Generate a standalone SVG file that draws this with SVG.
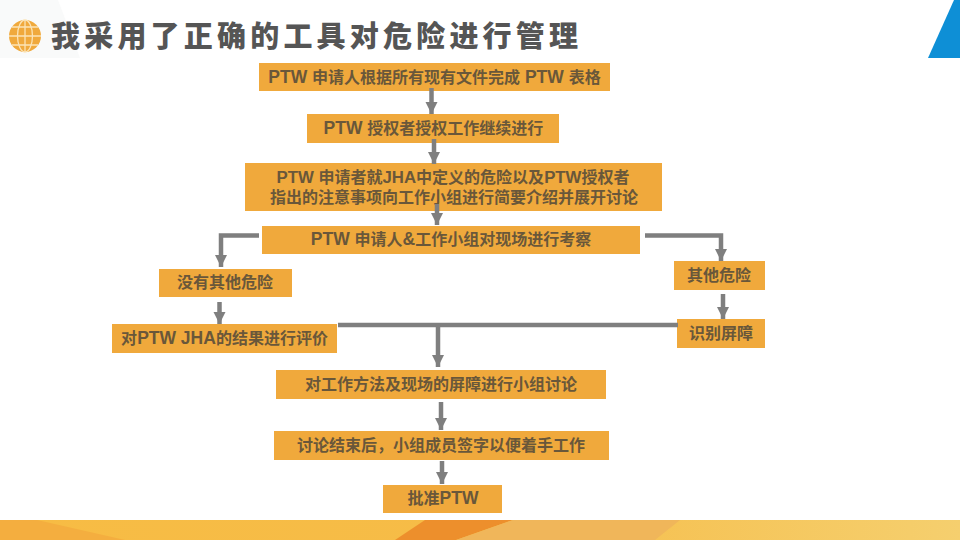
<svg xmlns="http://www.w3.org/2000/svg" width="960" height="540" viewBox="0 0 960 540">
<style>
.b{fill:#f0a93c}
.t{font-family:"Liberation Sans","Noto Sans CJK SC",sans-serif;font-weight:700;font-size:16px;fill:#69573a;text-anchor:middle}
.l{font-size:17.500px}
.m{font-size:16.800px}
.c{fill:none;stroke:#7f7f7f;stroke-width:4.500}
.title{font-family:"Noto Sans CJK SC",sans-serif;font-weight:900;font-size:29px;letter-spacing:4.200px;fill:#555}
.g{fill:none;stroke:#fbe3b5;stroke-width:1.3}
</style>
<defs>
<marker id="a" markerUnits="userSpaceOnUse" markerWidth="13" markerHeight="13" refX="12" refY="6.500" orient="auto"><path d="M0 0.500L12 6.500L0 12.500Z" fill="#7f7f7f"/></marker>
<linearGradient id="f" x1="0" x2="1" y1="0" y2="0"><stop offset="0" stop-color="#f7bc44"/><stop offset=".5" stop-color="#f6bc47"/><stop offset="1" stop-color="#f5cf6e"/></linearGradient>
</defs>
<rect width="960" height="540" fill="#fff"/>
<g id="header">
<path d="M0 0H58L80 58H0Z" fill="#f9fafa"/>
<path d="M928 58L954 0H960V58Z" fill="#0e8fd6"/>
<circle cx="25" cy="36" r="16" fill="#f0a93c"/>
<ellipse class="g" cx="25" cy="36" rx="7.500" ry="16"/><path class="g" d="M25 20V52M9 36H41M12 27H38M12 45H38"/>
<text class="title" x="51" y="47">我采用了正确的工具对危险进行管理</text>
</g>
<g id="footer">
<rect y="520" width="960" height="20" fill="url(#f)"/>
<path d="M0 520H37L125 540H0Z" fill="#f4ae3f"/>
<path d="M425 520H513L456 540H395Z" fill="#ed8f2c"/>
<path d="M513 520H680L655 540H456Z" fill="#f0b65a"/>
</g>
<g id="n1"><rect class="b" x="259" y="63" width="351" height="28"/><text class="t" x="434.500" y="82.500"><tspan class="l">PTW </tspan>申请人根据所有现有文件完成<tspan class="l"> PTW </tspan>表格</text></g>
<g id="n2"><rect class="b" x="307" y="114" width="252" height="29"/><text class="t" x="433.500" y="134"><tspan class="l">PTW </tspan>授权者授权工作继续进行</text></g>
<g id="n3"><rect class="b" x="245" y="163" width="417" height="48"/><text class="t" x="453" y="183"><tspan class="m">PTW </tspan>申请者就<tspan class="m">JHA</tspan>中定义的危险以及<tspan class="m">PTW</tspan>授权者</text><text class="t" x="454" y="203">指出的注意事项向工作小组进行简要介绍并展开讨论</text></g>
<g id="n4"><rect class="b" x="262" y="226" width="378" height="28"/><text class="t" x="451" y="245"><tspan class="l">PTW </tspan>申请人<tspan class="l">&amp;</tspan>工作小组对现场进行考察</text></g>
<g id="n5"><rect class="b" x="159" y="269" width="133" height="28"/><text class="t" x="225" y="288">没有其他危险</text></g>
<g id="n6"><rect class="b" x="674" y="261" width="91" height="29"/><text class="t" x="719" y="280.500">其他危险</text></g>
<g id="n7"><rect class="b" x="112" y="324" width="225" height="29"/><text class="t" x="224.500" y="344">对<tspan class="l">PTW JHA</tspan>的结果进行评价</text></g>
<g id="n8"><rect class="b" x="677" y="319" width="88" height="29"/><text class="t" x="721" y="339">识别屏障</text></g>
<g id="n9"><rect class="b" x="276" y="370" width="330" height="29"/><text class="t" x="441" y="390">对工作方法及现场的屏障进行小组讨论</text></g>
<g id="n10"><rect class="b" x="274" y="431" width="335" height="29"/><text class="t" x="441" y="451">讨论结束后，小组成员签字以便着手工作</text></g>
<g id="n11"><rect class="b" x="383" y="485" width="119" height="28"/><text class="t" x="443" y="504">批准<tspan class="l">PTW</tspan></text></g>
<g id="connectors">
<path class="c" marker-end="url(#a)" d="M431.500 88V114"/>
<path class="c" marker-end="url(#a)" d="M434 139V164"/>
<path class="c" marker-end="url(#a)" d="M437 204V225"/>
<path class="c" marker-end="url(#a)" d="M259 235.500H221V267"/>
<path class="c" marker-end="url(#a)" d="M645 235.500H721V261"/>
<path class="c" marker-end="url(#a)" d="M219.500 302V324"/>
<path class="c" marker-end="url(#a)" d="M723 294V319"/>
<path class="c" d="M338 325H678"/>
<path class="c" marker-end="url(#a)" d="M438 325V367"/>
<path class="c" marker-end="url(#a)" d="M441 402V430"/>
<path class="c" marker-end="url(#a)" d="M442 461V484"/>
</g>
</svg>
